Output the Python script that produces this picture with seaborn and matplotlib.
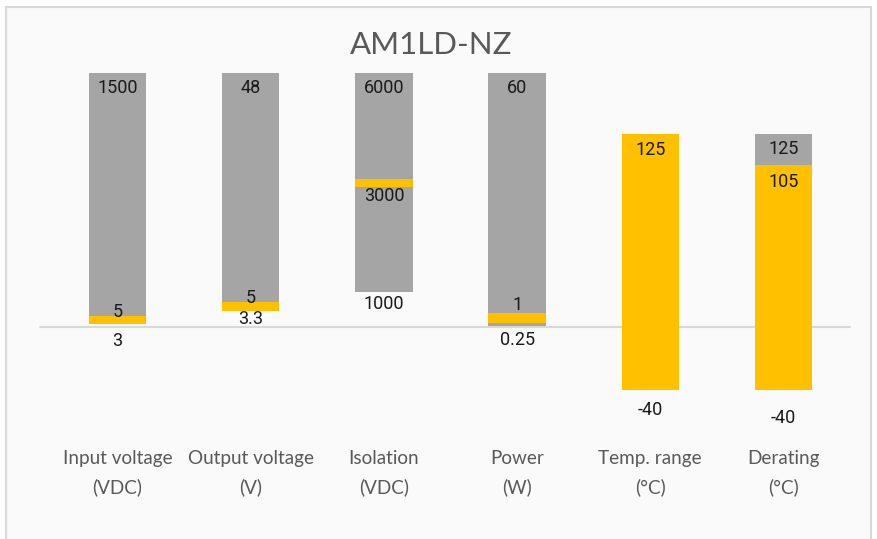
import matplotlib
matplotlib.use("Agg")
import matplotlib.pyplot as plt
from matplotlib.patches import Rectangle
import seaborn as sns

# categories along the x axis
categories = ["Input voltage\n(VDC)", "Output voltage\n(V)", "Isolation\n(VDC)",
              "Power\n(W)", "Temp. range\n(°C)", "Derating\n(°C)"]

# floating bar segments (chart units, each category on its own scale)
seg_category = [0, 0, 1, 1, 2, 2, 2, 3, 3, 3, 4, 5, 5]
seg_start = [1.2, 4.3, 6.3, 9.8, 13.8, 55.1, 58.3, 0.4, 1.6, 5.5, -24.8, -24.8, 63.8]
seg_end = [4.3, 100, 9.8, 100, 55.1, 58.3, 100, 1.6, 5.5, 100, 76.0, 63.8, 76.0]
seg_kind = ["typ", "max", "typ", "max", "max", "typ", "max",
            "max", "typ", "max", "typ", "typ", "max"]

# data labels: text, category, value they belong to
label_text = ["1500", "5", "3", "48", "5", "3.3", "6000", "3000", "1000",
              "60", "1", "0.25", "125", "-40", "125", "105", "-40"]
label_category = [0, 0, 0, 1, 1, 1, 2, 2, 2, 3, 3, 3, 4, 4, 5, 5, 5]
label_value = [100, 4.3, 1.2, 100, 9.8, 6.3, 100, 55.1, 13.8,
               100, 5.5, 0.4, 76.0, -24.8, 76.0, 63.8, -24.8]

title = "AM1LD-NZ"

# styling
colors = {"max": "#A5A5A5", "typ": "#FFC000"}
label_dy = [-15, 4, -17, -15, 4, -8, -15, -9, -12,
            -15, 8, -14, -16, -20, -15, -17, -28]
narrow = ["Lato", "DejaVu Sans"]

sns.set_theme(style="white")
plt.rcParams["font.family"] = ["Roboto", "DejaVu Sans"]

W, H = 878, 539
fig = plt.figure(figsize=(W / 100, H / 100), dpi=100)
fig.patch.set_facecolor("white")
frame = Rectangle((6 / W, -0.05), 865 / W, 1.05 - 7 / H,
                  transform=fig.transFigure, facecolor="#FAFAFA",
                  edgecolor="#D9D9D9", lw=1.5, zorder=-10)
fig.patches.append(frame)

y_top, y_base = 73, 327
px_per_unit = (y_base - y_top) / 100
ymin, ymax = -30, 100
bottom_px = y_base - ymin * px_per_unit
ax = fig.add_axes([51 / W, (H - bottom_px) / H, 799 / W, (bottom_px - y_top) / H])
ax.set_facecolor("none")
ax.set_zorder(1)

for c, s, e, k in zip(seg_category, seg_start, seg_end, seg_kind):
    ax.bar(c, e - s, bottom=s, width=0.43, color=colors[k], linewidth=0, zorder=2)

ax.axhline(0, xmin=-0.014, color="#D9D9D9", lw=1.5, zorder=1, clip_on=False)

for t, c, v, dy in zip(label_text, label_category, label_value, label_dy):
    ax.annotate(t, (c, v), xytext=(0, dy), textcoords="offset pixels",
                ha="center", va="center", fontsize=13, color="#1a1a1a", zorder=3)

ax.set_xlim(-0.5, 5.5)
ax.set_ylim(ymin, ymax)
ax.set_yticks([])
ax.set_xticks(range(len(categories)))
ax.set_xticklabels(categories, fontsize=13.6, color="#595959", linespacing=1.7,
                   family=narrow)
ax.tick_params(axis="x", length=0, pad=34)
sns.despine(ax=ax, left=True, bottom=True)

fig.text(431 / W, 1 - 45 / H, title, ha="center", va="center", fontsize=22.5,
         color="#595959", family=narrow, zorder=2)

fig.savefig("out.png", dpi=100)
